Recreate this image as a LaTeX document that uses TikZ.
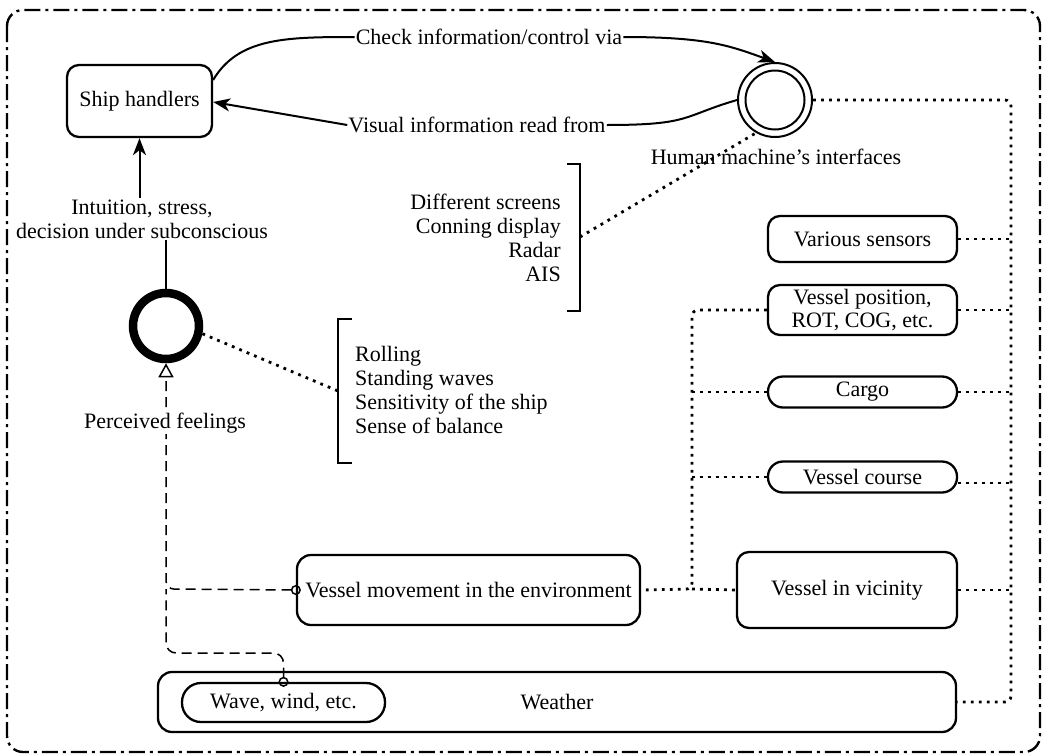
\documentclass[tikz,border=0pt]{standalone}
\usepackage{fontspec}
\setmainfont{Liberation Serif}
\usetikzlibrary{arrows.meta,calc}
\begin{document}
\begin{tikzpicture}[x=1pt,y=-1pt,
  font=\fontsize{22}{24}\selectfont,
  box/.style={draw, line width=2.3pt, rounded corners=12pt, inner sep=0pt, align=center},
  txt/.style={inner sep=1pt, align=center},
  conn/.style={line width=2pt},
  dotl/.style={line width=2.8pt, dash pattern=on 2.8pt off 5.2pt},
  dashl/.style={line width=1.5pt, dash pattern=on 10pt off 6pt},
  tip/.style={-{Stealth[length=17pt,width=13pt,inset=5pt]}}
]
\useasboundingbox (0,0) rectangle (1044,755);
% outer frame
\draw[line width=2.4pt, dash pattern=on 16pt off 5pt on 3pt off 5pt, rounded corners=16pt] (7,10) rectangle (1040,752);

% nodes
\node[box, minimum width=145pt, minimum height=72pt] (ship) at (139.5,101) {Ship handlers};
\node[txt] (check) at (489,37) {Check information/control via};
\node[txt] (visual) at (477,125) {Visual information read from};
\node[circle, draw, line width=2pt, minimum size=74pt, inner sep=0pt] (hmi) at (775,100) {};
\draw[line width=2pt] (hmi.center) circle (29.5pt);
\node[txt] (hmilab) at (776,157) {Human machine’s interfaces};
\node[txt] (intu) at (142,219) {Intuition, stress,\\decision under subconscious};
\node[circle, draw, line width=8.5pt, minimum size=66pt, inner sep=0pt] (feel) at (166,326) {};
\node[txt, align=right, anchor=east] (scr) at (562,238) {Different screens\\Conning display\\Radar\\AIS};
\node[txt, align=left, anchor=west] (roll) at (354,390) {Rolling\\Standing waves\\Sensitivity of the ship\\Sense of balance};

\node[box, minimum width=189pt, minimum height=46pt] (sens) at (862.5,239) {Various sensors};
\node[box, minimum width=189pt, minimum height=50pt, font=\fontsize{22}{23}\selectfont] (vpos) at (862.5,310) {Vessel position,\\ROT, COG, etc.};
\node[box, rounded corners=15pt, minimum width=189pt, minimum height=31pt] (cargo) at (862.5,392) {Cargo};
\node[box, rounded corners=15pt, minimum width=189pt, minimum height=31pt] (course) at (862.5,477) {Vessel course};
\node[box, minimum width=220pt, minimum height=76pt] (vvic) at (847,590) {Vessel in vicinity};
\node[box, rounded corners=14pt, minimum width=343pt, minimum height=70pt] (vmove) at (468.5,590) {Vessel movement in the environment};
\node[box, rounded corners=14pt, minimum width=798pt, minimum height=60pt] (weather) at (557,702) {Weather};
\node[box, rounded corners=19pt, minimum width=203pt, minimum height=39pt] (wave) at (283.5,702.5) {Wave, wind, etc.};

% brackets
\coordinate (br1) at (580,237);
\draw[conn] (567,164) -- (580,164) -- (580,311) -- (567,311);
\coordinate (br2) at (338,391);
\draw[conn] (352,319) -- (338,319) -- (338,463) -- (352,463);

% solid connectors
\draw[conn] ($(ship.east)+(0,-21)$) .. controls +(25,-42) and +(-70,0) .. (check.west);
\draw[conn,tip] (check.east) .. controls +(85,0) and +(-45,-16) .. (hmi.north);
\draw[conn] (hmi.west) .. controls +(-55,16) and +(85,0) .. (visual.east);
\draw[conn,tip] (visual.west) -- ($(ship.east)+(0,1)$);
\draw[conn,tip] (intu.north -| ship.south) -- (ship.south);
\draw[conn] (feel.north) -- (feel.north |- intu.south);

% dotted connectors
\draw[dotl] (br1) -- (hmi.240);
\draw[dotl] (feel.348) -- (br2);
\draw[dotl, rounded corners=6pt] (hmi.east) -- (1011,100) -- (1011,702) -- (weather.east);
\draw[dotl] (sens.east) -- (1011,239);
\draw[dotl] (vpos.east) -- (1011,310);
\draw[dotl] (cargo.east) -- (1011,392);
\draw[dotl] ($(course.east)+(0,6)$) -- (1011,483);
\draw[dotl] (vvic.east) -- (1011,590);
\draw[dotl, rounded corners=6pt] (vpos.west) -- (692,310) -- (692,589) -- (vmove.east);
\draw[dotl] (692,589) -- (vvic.west);
\draw[dotl] (cargo.west) -- (692,392);
\draw[dotl] (course.west) -- (692,477);

% dashed connectors
\draw[dashl, rounded corners=8pt, shorten <=-5pt, {Circle[open,length=10pt,width=10pt]}-{Triangle[open,length=14pt,width=15pt]}] (vmove.west) -- (166,589) -- (feel.south);
\draw[dashl, rounded corners=10pt, shorten <=-5pt, {Circle[open,length=10pt,width=10pt]}-] (wave.north) -- (283.5,653) -- (166,653) -- (166,589);
\node[txt, fill=white] (perc) at (165,423) {Perceived feelings};
\end{tikzpicture}
\end{document}
